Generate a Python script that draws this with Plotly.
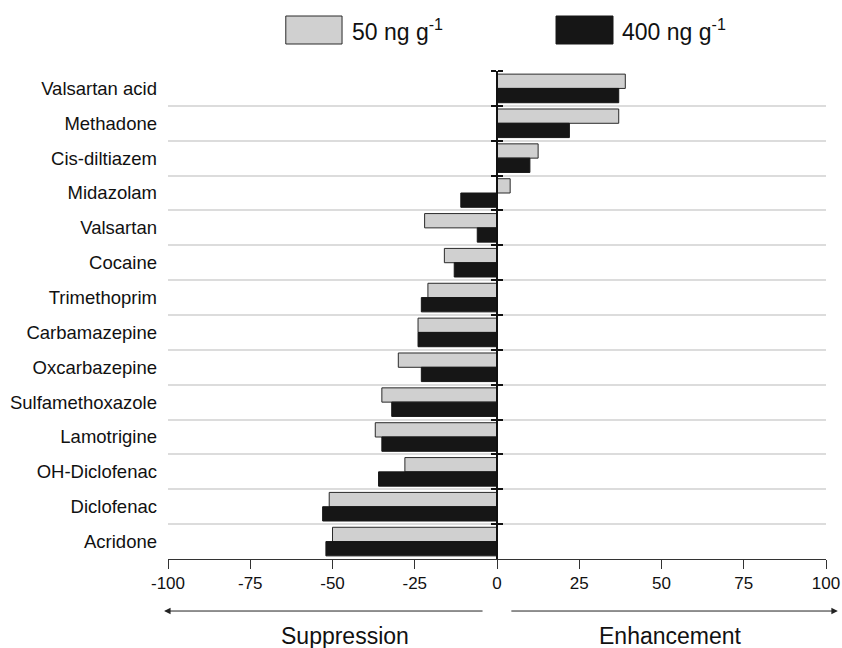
import plotly.graph_objects as go

compounds = ["Valsartan acid", "Methadone", "Cis-diltiazem", "Midazolam", "Valsartan",
             "Cocaine", "Trimethoprim", "Carbamazepine", "Oxcarbazepine", "Sulfamethoxazole",
             "Lamotrigine", "OH-Diclofenac", "Diclofenac", "Acridone"]
low_conc = [39, 37, 12.5, 4, -22, -16, -21, -24, -30, -35, -37, -28, -51, -50]
high_conc = [37, 22, 10, -11, -6, -13, -23, -24, -23, -32, -35, -36, -53, -52]
x_ticks = [-100, -75, -50, -25, 0, 25, 50, 75, 100]
x_tick_labels = ["-100", "-75", "-50", "-25", "0", "25", "50", "75", "100"]
series_names = ["50 ng g<sup>-1</sup>", "400 ng g<sup>-1</sup>"]

FONT = "Liberation Sans, Arial, sans-serif"
GRAY = "#d0d0d0"
BLACK = "#161616"

fig = go.Figure()
fig.add_trace(go.Bar(y=compounds, x=low_conc, orientation="h", name=series_names[0],
                     marker=dict(color=GRAY, line=dict(color="#2a2a2a", width=1)),
                     showlegend=False))
fig.add_trace(go.Bar(y=compounds, x=high_conc, orientation="h", name=series_names[1],
                     marker=dict(color=BLACK, line=dict(color=BLACK, width=1)),
                     showlegend=False))
# invisible helpers so the zero-position axes get their categories
for ya in ["y2", "y3"]:
    fig.add_trace(go.Scatter(x=[0] * len(compounds), y=compounds, mode="markers",
                             marker=dict(opacity=0), yaxis=ya, hoverinfo="skip",
                             showlegend=False))

cat_range = [len(compounds) - 0.5, -0.5]
fig.update_layout(
    width=842, height=648,
    margin=dict(l=168, r=16, t=71, b=89),
    paper_bgcolor="white", plot_bgcolor="white",
    font=dict(family=FONT, color="#111111"),
    barmode="group", bargap=0.18, bargroupgap=0,
    xaxis=dict(range=[-100, 100], tickvals=x_ticks, ticktext=x_tick_labels,
               ticks="outside", ticklen=9, automargin=False,
               tickcolor="#333333", showline=True, linecolor="#333333", linewidth=1,
               showgrid=False, zeroline=False, tickfont=dict(size=17, family=FONT)),
    yaxis=dict(type="category", categoryorder="array", categoryarray=compounds,
               range=cat_range, tickson="boundaries", ticks="", showgrid=True,
               automargin=False,
               gridcolor="#dcdcdc", gridwidth=1.5, showline=False, zeroline=False,
               tickfont=dict(size=18.5, family=FONT), ticklabelstandoff=10),
    yaxis2=dict(type="category", categoryorder="array", categoryarray=compounds,
                range=cat_range, overlaying="y", anchor="free", position=0.5,
                side="left", tickson="boundaries", ticks="outside", ticklen=5,
                tickwidth=2, tickcolor="#111111", showline=True, linecolor="#111111",
                linewidth=2, showgrid=False, showticklabels=False, zeroline=False),
    yaxis3=dict(type="category", categoryorder="array", categoryarray=compounds,
                range=cat_range, overlaying="y", anchor="free", position=0.5,
                side="right", tickson="boundaries", ticks="outside", ticklen=5,
                tickwidth=2, tickcolor="#111111", showline=False,
                showgrid=False, showticklabels=False, zeroline=False),
)

# legend drawn as swatches + labels
swatches = [(0.179, 0.2645, GRAY, "#2a2a2a"), (0.5897, 0.6763, BLACK, BLACK)]
label_x = [0.276, 0.6865]
for (x0, x1, fc, lc), lx, name in zip(swatches, label_x, series_names):
    fig.add_shape(type="rect", xref="paper", yref="paper", x0=x0, x1=x1,
                  y0=1.0553, y1=1.1127, fillcolor=fc, line=dict(color=lc, width=1))
    fig.add_annotation(xref="paper", yref="paper", x=lx, y=1.084, text=name,
                       showarrow=False, xanchor="left", yanchor="middle",
                       font=dict(size=23, family=FONT, color="#111111"))

# direction arrows and labels
fig.add_annotation(xref="paper", yref="paper", x=-0.006, y=-0.1066, ax=320, ay=0,
                   text="", showarrow=True, arrowhead=2, arrowsize=1.3, arrowwidth=1,
                   arrowcolor="#222222")
fig.add_annotation(xref="paper", yref="paper", x=1.018, y=-0.1066, ax=-328, ay=0,
                   text="", showarrow=True, arrowhead=2, arrowsize=1.3, arrowwidth=1,
                   arrowcolor="#222222")
fig.add_annotation(xref="paper", yref="paper", x=0.269, y=-0.158, text="Suppression",
                   showarrow=False, xanchor="center", yanchor="middle",
                   font=dict(size=23, family=FONT, color="#111111"))
fig.add_annotation(xref="paper", yref="paper", x=0.763, y=-0.158, text="Enhancement",
                   showarrow=False, xanchor="center", yanchor="middle",
                   font=dict(size=23, family=FONT, color="#111111"))

fig.write_html("out.html", config={"displayModeBar": False},
               post_script="document.body.style.margin='0px';")
